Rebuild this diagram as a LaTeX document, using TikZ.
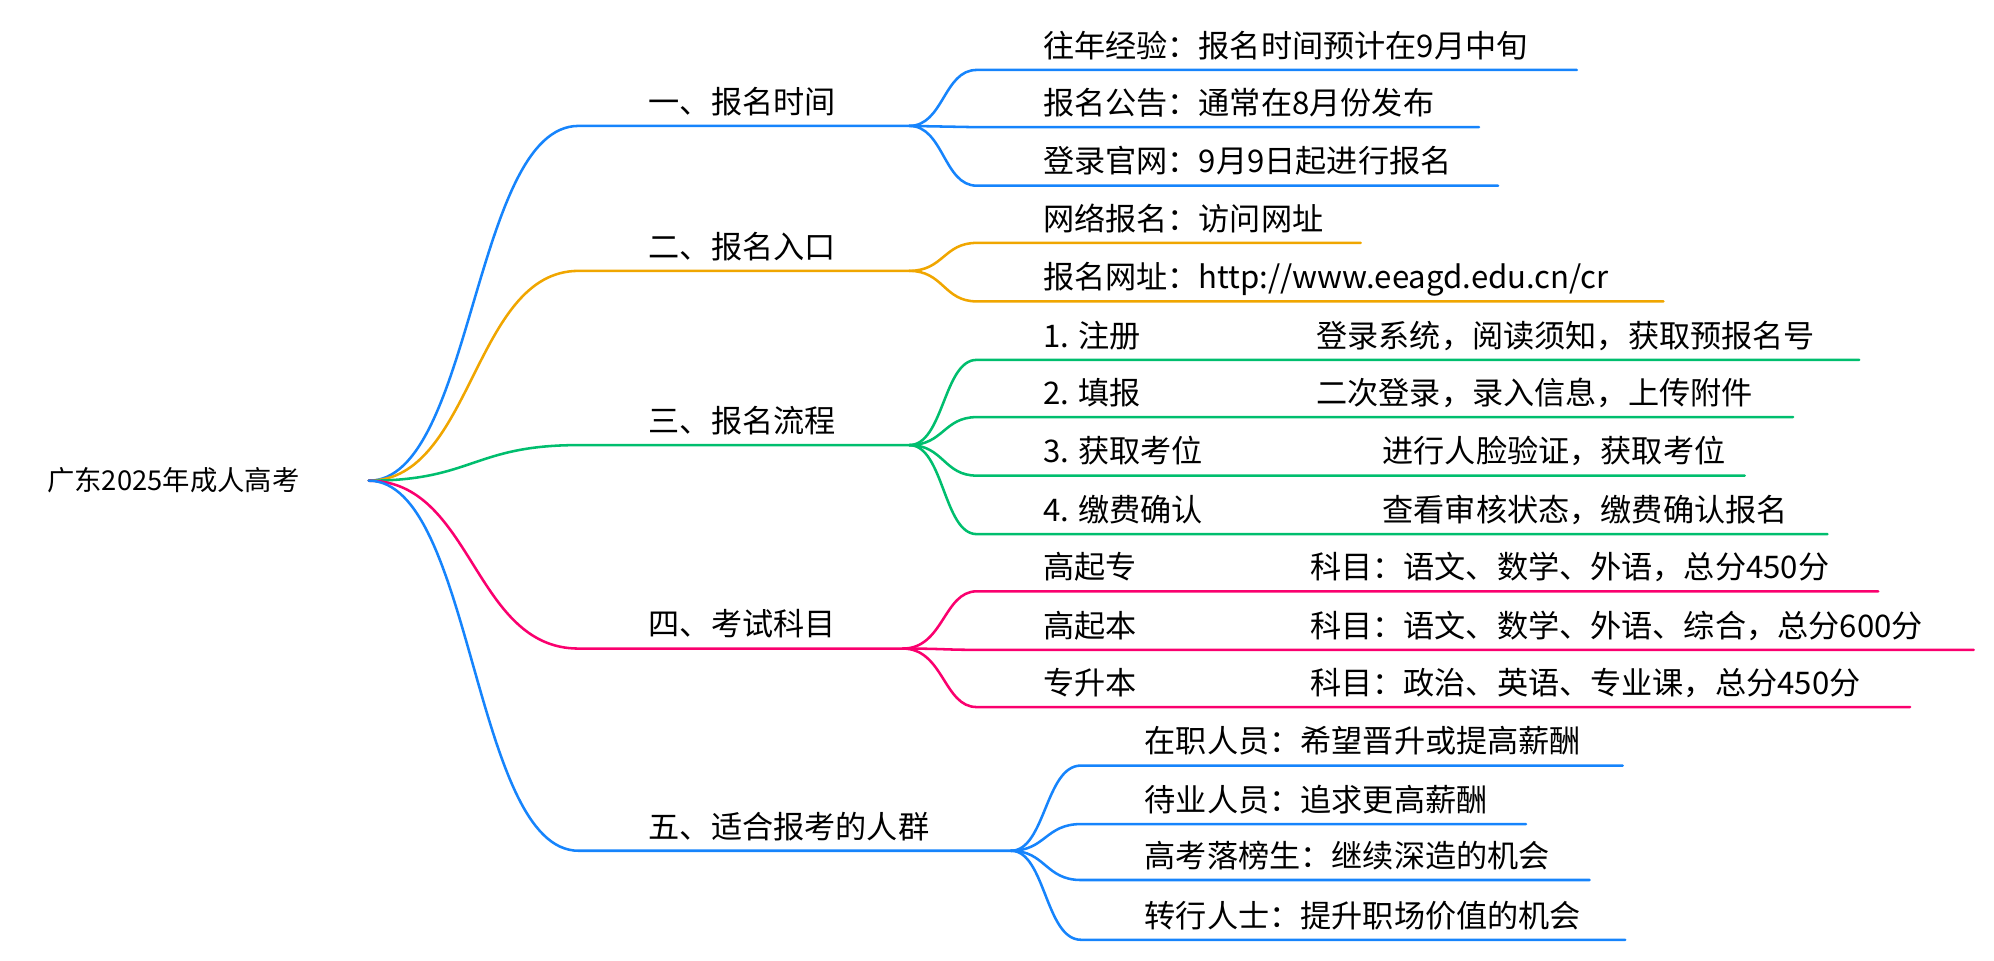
\documentclass[tikz,border=0pt]{standalone}
\usepackage{fontspec}
\setmainfont{Noto Sans CJK SC}
\definecolor{cb}{RGB}{22,132,252}
\definecolor{co}{RGB}{240,166,0}
\definecolor{cg}{RGB}{0,190,110}
\definecolor{cp}{RGB}{250,0,110}
\begin{document}
\begin{tikzpicture}[x=1pt,y=-1pt,
  lbl/.style={anchor=base west,inner sep=0pt,font=\fontsize{24.5}{28}\selectfont},
  br/.style={line width=2pt,line cap=round}]
\useasboundingbox (0,0) rectangle (1568,755);
\node[lbl,font=\fontsize{21.5}{26}\selectfont] (root) at (37,386) {广东2025年成人高考};
\coordinate (r) at (290,378);
% level 1
\foreach \n/\y/\e/\c/\t in {a/99/715/cb/一、报名时间, b/213/715/co/二、报名入口, c/350/715/cg/三、报名流程, d/510/710/cp/四、考试科目, e/669/795/cb/五、适合报考的人群}{
  \coordinate (\n s) at (455,\y);
  \coordinate (\n) at (\e,\y);
  \node[lbl] (\n t) at (510,\y-10) {\t};
  \draw[br,\c] (r) .. controls (372,378) and (372,\y) .. (\n s) -- (\n);
}
% children of a,b,c,d
\foreach \p/\py/\c/\n/\y/\e/\t in {
 a/99/cb/a1/55/1240/往年经验：报名时间预计在9月中旬,
 a/99/cb/a2/100/1163/报名公告：通常在8月份发布,
 a/99/cb/a3/146/1178/登录官网：9月9日起进行报名,
 b/213/co/b1/191/1070/网络报名：访问网址,
 b/213/co/b2/237/1308/{报名网址：http://www.eeagd.edu.cn/cr},
 c/350/cg/c1/283/1462/1. 注册,
 c/350/cg/c2/328/1410/2. 填报,
 c/350/cg/c3/374/1372/3. 获取考位,
 c/350/cg/c4/420/1437/4. 缴费确认,
 d/510/cp/d1/465/1477/高起专,
 d/510/cp/d2/511/1552/高起本,
 d/510/cp/d3/556/1502/专升本}{
  \coordinate (\n s) at (768,\y);
  \coordinate (\n) at (\e,\y);
  \node[lbl] (\n t) at (820,\y-10) {\t};
  \draw[br,\c] (\p) .. controls (742,\py) and (742,\y) .. (\n s) -- (\n);
}
\node[lbl] (c1u) at (1035,273) {登录系统，阅读须知，获取预报名号};
\node[lbl] (c2u) at (1035,318) {二次登录，录入信息，上传附件};
\node[lbl] (c3u) at (1087,364) {进行人脸验证，获取考位};
\node[lbl] (c4u) at (1087,410) {查看审核状态，缴费确认报名};
\node[lbl] (d1u) at (1030,455) {科目：语文、数学、外语，总分450分};
\node[lbl] (d2u) at (1030,501) {科目：语文、数学、外语、综合，总分600分};
\node[lbl] (d3u) at (1030,546) {科目：政治、英语、专业课，总分450分};
% children of e
\foreach \n/\y/\e/\t in {
 e1/602/1276/在职人员：希望晋升或提高薪酬,
 e2/648/1200/待业人员：追求更高薪酬,
 e3/692/1250/高考落榜生：继续深造的机会,
 e4/739/1278/转行人士：提升职场价值的机会}{
  \coordinate (\n s) at (850,\y);
  \coordinate (\n) at (\e,\y);
  \node[lbl] (\n t) at (900,\y-10) {\t};
  \draw[br,cb] (e) .. controls (822,669) and (822,\y) .. (\n s) -- (\n);
}
\end{tikzpicture}
\end{document}
